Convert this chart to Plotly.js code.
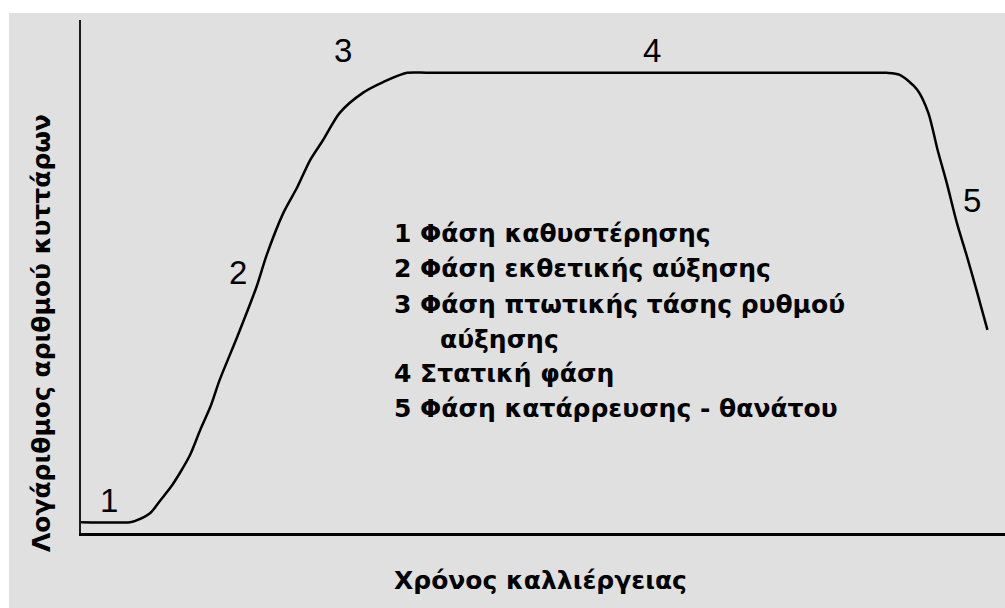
<!DOCTYPE html>
<html>
<head>
<meta charset="utf-8">
<script src="https://cdn.plot.ly/plotly-3.0.1.min.js"></script>
<style>
  html, body { margin: 0; padding: 0; background: #ffffff; }
  #chart { position: absolute; left: 9px; top: 13px; width: 996px; height: 595px; }
</style>
</head>
<body>
<div id="chart"></div>
<script>
// Growth curve (log number of cells vs. culture time), arbitrary units 0-100
const timeValues = [0, 5.3, 5.8, 7.5, 8.6, 9.7, 10.7, 11.8, 12.9, 14.0, 15.0, 16.9, 19.0, 20.1, 21.9, 23.4, 24.8, 26.2,
                    28.0, 30.5, 32.7, 35.3, 37.8, 85.0, 87.2, 88.6, 90.5, 91.7, 92.7, 93.7, 94.8, 95.9, 97.0, 98.1];
const logCells   = [2.1, 2.1, 2.3, 3.9, 6.4, 8.9, 11.7, 15.2, 20.1, 24.6, 29.8, 38.2, 48.0, 54.2, 62.4, 67.4, 72.7, 76.6,
                    81.9, 85.8, 87.9, 89.7, 89.7, 89.7, 89.7, 89.3, 86.4, 81.9, 74.7, 68.2, 60.4, 53.8, 46.8, 39.6];

// Phase numbers placed along the curve
const phaseNumbers = ["1", "2", "3", "4", "5"];
const phaseNumX    = [3.0, 17.0, 28.4, 61.8, 96.4];
const phaseNumY    = [6.4, 50.7, 94.0, 94.0, 64.9];

// Phase description lines
const phaseLines = [
  "1 Φάση καθυστέρησης",
  "2 Φάση εκθετικής αύξησης",
  "3 Φάση πτωτικής τάσης ρυθμού",
  "αύξησης",
  "4 Στατική φάση",
  "5 Φάση κατάρρευσης - θανάτου"
];
const phaseLineX = [33.7, 33.7, 33.7, 38.6, 33.7, 33.7];
const phaseLineY = [58.3, 51.5, 44.6, 37.8, 31.0, 24.2];

const xTitle = "Χρόνος καλλιέργειας";
const yTitle = "Λογάριθμος αριθμού κυττάρων";

const textFont = { family: "DejaVu Sans", size: 25, color: "#000000", weight: "bold" };
const numFont  = { family: "Liberation Sans", size: 33, color: "#000000" };

const annotations = [];
phaseNumbers.forEach((t, i) => annotations.push({
  x: phaseNumX[i], y: phaseNumY[i], xref: "x", yref: "y", text: t,
  showarrow: false, xanchor: "center", yanchor: "middle", font: numFont
}));
phaseLines.forEach((t, i) => annotations.push({
  x: phaseLineX[i], y: phaseLineY[i], xref: "x", yref: "y", text: "<b>" + t + "</b>",
  showarrow: false, xanchor: "left", yanchor: "middle", font: textFont
}));
annotations.push({
  x: 0.497, y: -0.093, xref: "paper", yref: "paper", text: "<b>" + xTitle + "</b>",
  showarrow: false, xanchor: "center", yanchor: "middle", font: textFont
});
annotations.push({
  x: -0.042, y: 0.39, xref: "paper", yref: "paper", text: "<b>" + yTitle + "</b>",
  showarrow: false, xanchor: "center", yanchor: "middle", textangle: -90, font: textFont
});

const trace = {
  x: timeValues, y: logCells, type: "scatter", mode: "lines",
  line: { color: "#000000", width: 2.5, shape: "spline", smoothing: 0.8 },
  cliponaxis: false, hoverinfo: "skip"
};

const layout = {
  width: 996, height: 595,
  margin: { l: 72, r: 0, t: 7, b: 75 },
  paper_bgcolor: "#e0e0e0", plot_bgcolor: "#e0e0e0",
  showlegend: false,
  xaxis: { range: [0, 100], showgrid: false, zeroline: false, showticklabels: false, ticks: "",
           showline: true, linecolor: "#000000", linewidth: 3 },
  yaxis: { range: [0, 100], showgrid: false, zeroline: false, showticklabels: false, ticks: "",
           showline: true, linecolor: "#1a1a1a", linewidth: 2 },
  annotations: annotations
};

Plotly.newPlot("chart", [trace], layout, { displayModeBar: false, staticPlot: true });
</script>
</body>
</html>
